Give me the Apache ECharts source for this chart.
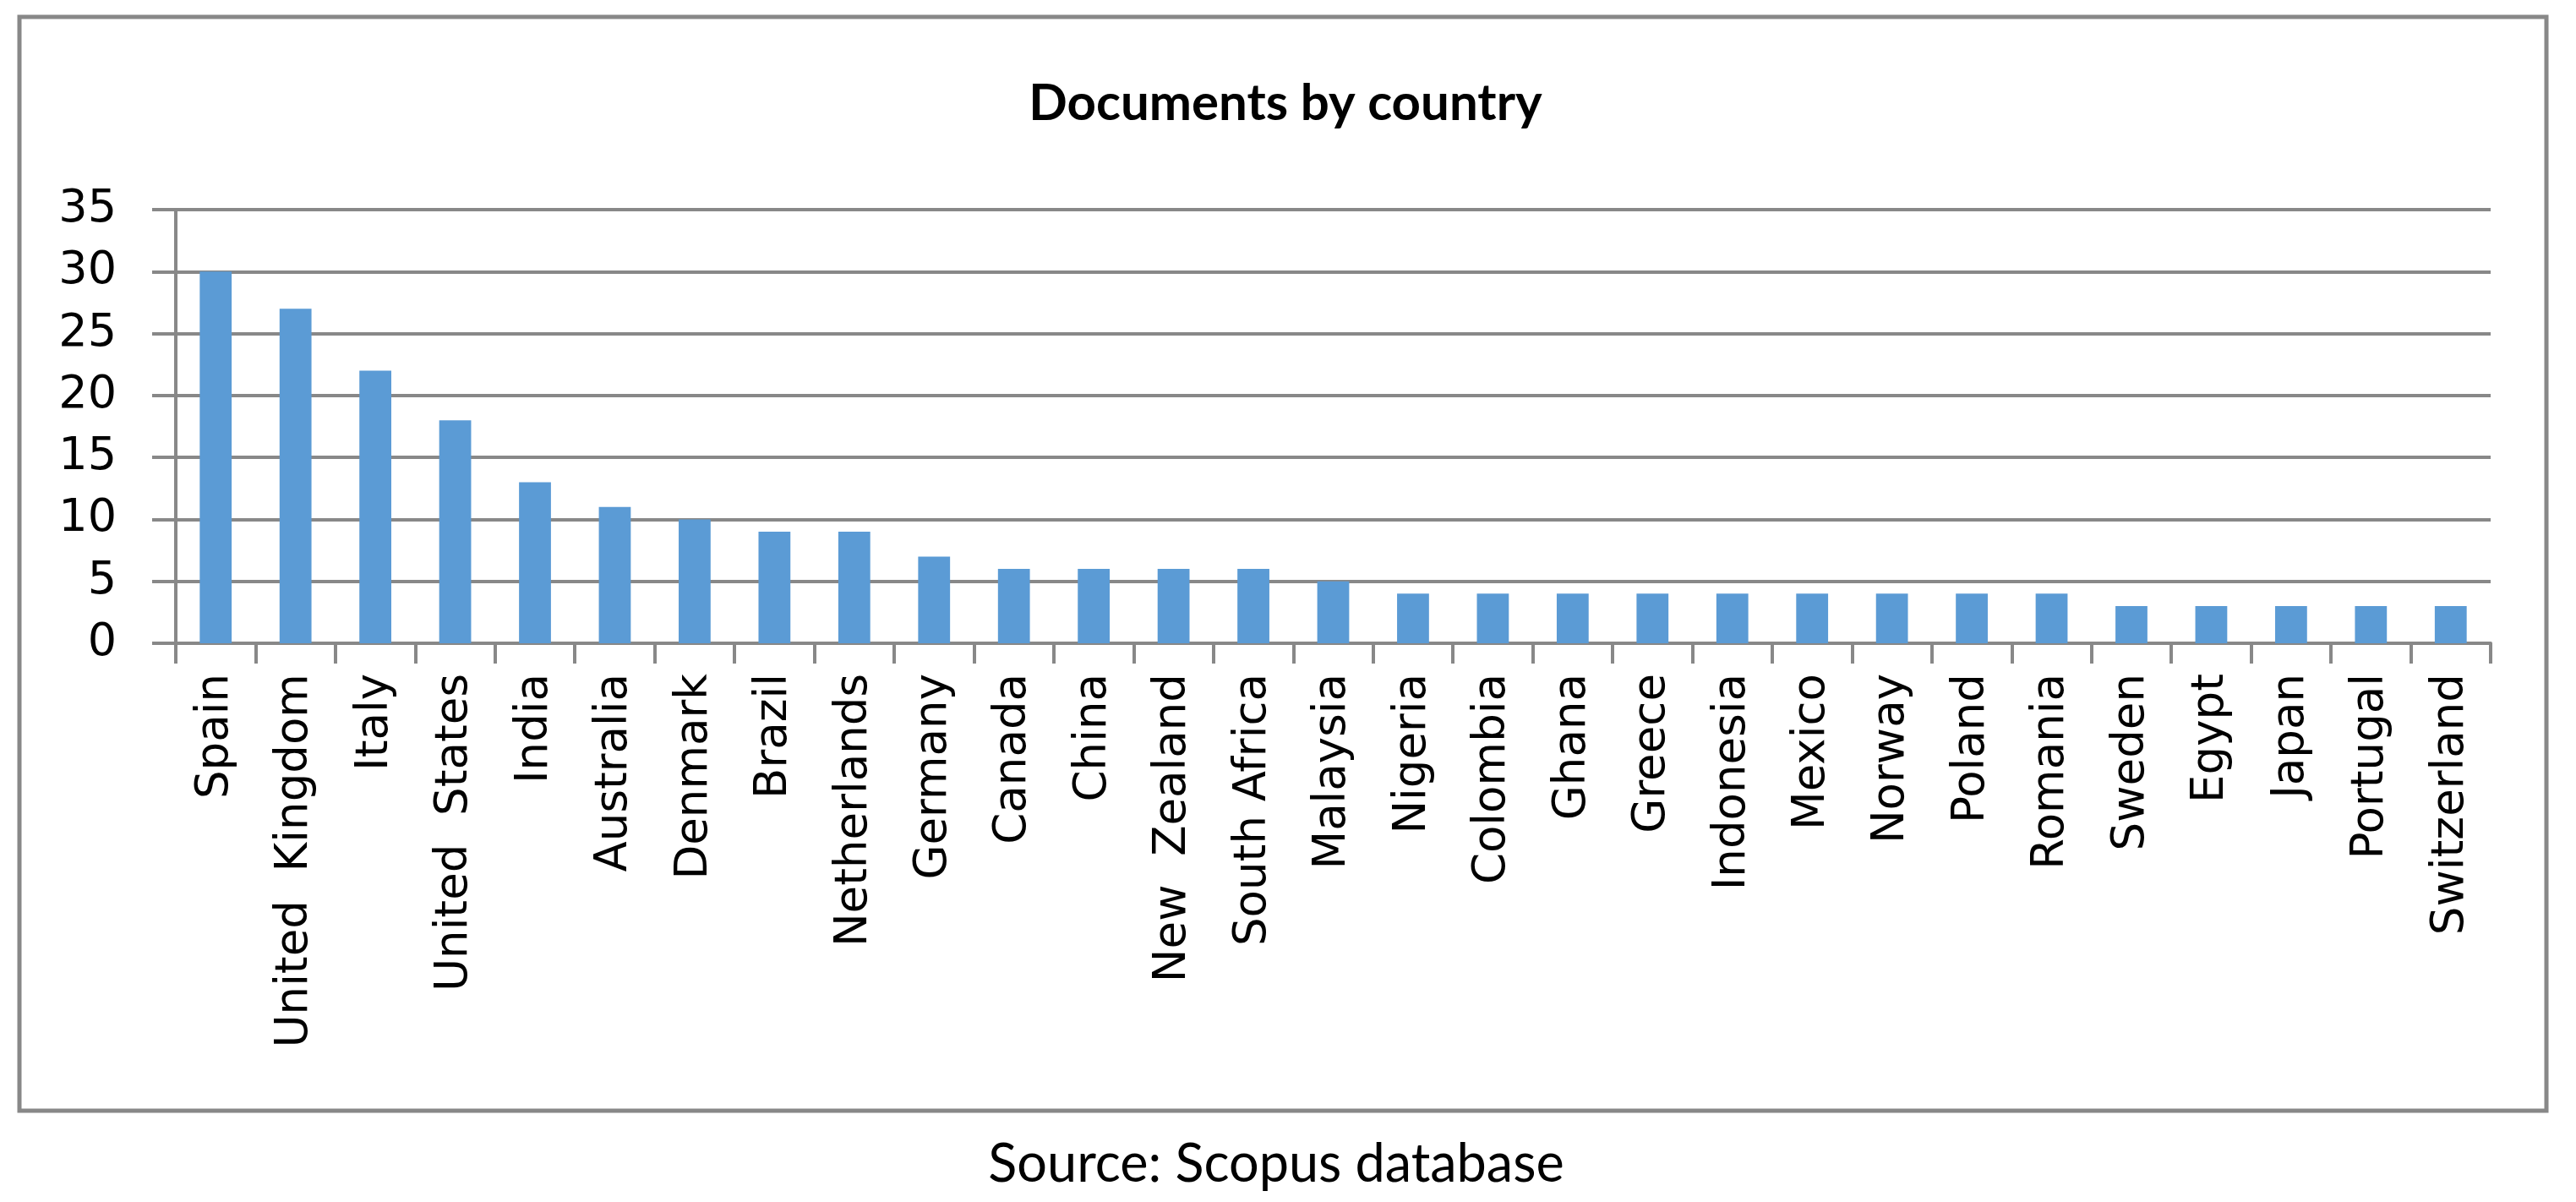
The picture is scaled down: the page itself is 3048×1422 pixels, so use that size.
<!DOCTYPE html>
<html>
<head>
<meta charset="utf-8">
<title>Documents by country</title>
<script src="https://cdn.jsdelivr.net/npm/echarts/dist/echarts.min.js"></script>
<style>
    html, body { margin: 0; padding: 0; background: #fff; }
    #chart { width: 3048px; height: 1422px; }
</style>
</head>
<body>
<div id="chart"></div>
<script>
// values
var countries = ["Spain", "United  Kingdom", "Italy", "United  States", "India", "Australia", "Denmark", "Brazil",
    "Netherlands", "Germany", "Canada", "China", "New  Zealand", "South Africa", "Malaysia", "Nigeria", "Colombia",
    "Ghana", "Greece", "Indonesia", "Mexico", "Norway", "Poland", "Romania", "Sweden", "Egypt", "Japan",
    "Portugal", "Switzerland"]
var documents = [30, 27, 22, 18, 13, 11, 10, 9, 9, 7, 6, 6, 6, 6, 5, 4, 4, 4, 4, 4, 4, 4, 4, 4, 3, 3, 3, 3, 3]
var yTicks = [0, 5, 10, 15, 20, 25, 30, 35]

var grey = '#888888'

var chartDom = document.getElementById('chart')
var myChart = echarts.init(chartDom)

var option = {
    animation: false,
    backgroundColor: '#fff',
    title: {
        text: 'Documents by country',
        left: 1516,
        top: 88,
        textAlign: 'center',
        textStyle: {
            fontFamily: 'Lato',
            fontWeight: 'bold',
            fontSize: 60,
            color: '#000'
        }
    },
    grid: {
        left: 208,
        right: 101,
        top: 248,
        bottom: 661
    },
    xAxis: {
        type: 'category',
        data: countries,
        axisLine: { lineStyle: { color: grey, width: 4 } },
        axisTick: { show: true, length: 24, lineStyle: { color: grey, width: 4 } },
        axisLabel: {
            rotate: 90,
            interval: 0,
            margin: 36,
            fontFamily: 'DejaVu Sans',
            fontSize: 53,
            color: '#000'
        }
    },
    yAxis: {
        type: 'value',
        min: yTicks[0],
        max: yTicks[yTicks.length - 1],
        interval: 5,
        axisLine: { show: true, lineStyle: { color: grey, width: 4 } },
        axisTick: { show: true, length: 28, lineStyle: { color: grey, width: 4 } },
        splitLine: { lineStyle: { color: grey, width: 4 } },
        axisLabel: {
            margin: 70,
            fontFamily: 'DejaVu Sans',
            fontSize: 54,
            color: '#000'
        }
    },
    series: [{
        type: 'bar',
        data: documents,
        barCategoryGap: '60%',
        itemStyle: { color: '#5B9BD5' }
    }],
    graphic: [{
        type: 'rect',
        shape: { x: 23, y: 20, width: 2990, height: 1294 },
        style: { fill: null, stroke: grey, lineWidth: 5 },
        silent: true
    }, {
        type: 'text',
        x: 1510,
        y: 1378,
        style: {
            text: 'Source: Scopus database',
            textAlign: 'center',
            textVerticalAlign: 'middle',
            fontFamily: 'Lato',
            fontSize: 63,
            fill: '#000'
        }
    }]
}

option && myChart.setOption(option)
</script>
</body>
</html>
